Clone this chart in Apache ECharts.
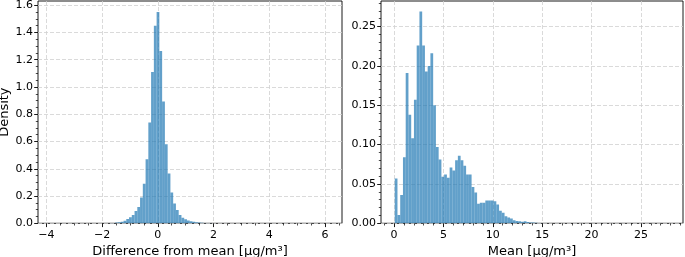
<!DOCTYPE html>
<html><head><meta charset="utf-8">
<script src="https://cdn.jsdelivr.net/npm/echarts@6/dist/echarts.min.js"></script>
<style>html,body{margin:0;padding:0;background:#fff}#c{width:685px;height:257px}</style>
</head><body><div id="c"></div>
<script>
// ---- Left histogram: difference from mean (100 bins) ----
const diffBinStart = -3.805;
const diffBinWidth = 0.099;
const diffDensity = [
  0.0001,0,0,0,0,0,0,0,0,0,
  0,0,0,0,0,0,0,0.0003,0.0005,0.0008,
  0.001,0.002,0.003,0.005,0.008,0.012,0.019,0.031,0.044,0.06,
  0.09,0.12,0.19,0.29,0.47,0.74,1.11,1.45,1.55,1.265,
  0.893,0.58,0.365,0.226,0.146,0.097,0.061,0.041,0.029,0.02,
  0.015,0.011,0.008,0.006,0.004,0.003,0.002,0.0015,0.001,0.0008,
  0.0006,0.0004,0.0003,0.0002,0,0,0,0,0,0,
  0,0,0,0,0,0,0,0,0,0,
  0,0,0,0,0,0,0,0,0,0,
  0,0,0,0,0,0,0,0,0,0.0001
];
// ---- Right histogram: mean (100 bins) ----
const meanBinStart = 0.07;
const meanBinWidth = 0.278;
const meanDensity = [
  0.057,0.0105,0.036,0.084,0.191,0.138,0.108,0.157,0.226,0.269,
  0.226,0.193,0.200,0.216,0.150,0.097,0.081,0.059,0.062,0.058,
  0.071,0.067,0.080,0.086,0.080,0.073,0.062,0.062,0.046,0.039,
  0.025,0.026,0.026,0.029,0.029,0.029,0.028,0.024,0.016,0.0135,
  0.009,0.0075,0.006,0.004,0.003,0.0025,0.002,0.0025,0.0015,0.001,
  0.001,0.0007,0.0005,0.0003,0.0002,0,0,0,0,0,
  0,0,0,0,0,0,0,0,0,0,
  0,0,0,0,0,0,0,0,0,0,
  0,0,0,0,0,0,0,0,0,0,
  0,0,0,0,0,0,0,0,0,0.0001
];
// ---- Tick values and labels ----
const diffTicks = [-4, -2, 0, 2, 4, 6];
const diffTickLabels = ['\u22124', '\u22122', '0', '2', '4', '6'];
const diffDensityTicks = [0, 0.2, 0.4, 0.6, 0.8, 1.0, 1.2, 1.4, 1.6];
const diffDensityTickLabels = ['0.0', '0.2', '0.4', '0.6', '0.8', '1.0', '1.2', '1.4', '1.6'];
const meanTicks = [0, 5, 10, 15, 20, 25];
const meanTickLabels = ['0', '5', '10', '15', '20', '25'];
const meanDensityTicks = [0, 0.05, 0.10, 0.15, 0.20, 0.25];
const meanDensityTickLabels = ['0.00', '0.05', '0.10', '0.15', '0.20', '0.25'];
const xTitles = ['Difference from mean [μg/m³]', 'Mean [μg/m³]'];
const yTitle = 'Density';

const diffRange = [-4.3, 6.61];
const diffDensityRange = [0, 1.631];
const meanRange = [-1.32, 29.26];
const meanDensityRange = [0, 0.2825];

function minors(majors, n, range) {
  const step = (majors[1] - majors[0]) / n;
  const out = [];
  for (let v = majors[0] - 2 * (majors[1] - majors[0]); v <= range[1] + 1e-9; v += step) {
    const r = Math.round(v * 1e6) / 1e6;
    if (r > range[0] && r < range[1] && !majors.some(m => Math.abs(m - r) < 1e-9)) out.push(r);
  }
  return out;
}
function bins(start, width, dens) {
  return dens.map((d, i) => [start + i * width, start + (i + 1) * width, d]);
}
function labeler(ticks, labels) {
  return function (v) {
    const val = Number(v);
    for (let i = 0; i < ticks.length; i++) if (Math.abs(ticks[i] - val) < 1e-6) return labels[i];
    return '';
  };
}

const FONT = 'DejaVu Sans';
const barColor = 'rgba(31,119,180,0.7)';
const gridLine = { show: true, lineStyle: { color: '#d0d0d0', width: 0.8, type: [4, 2] } };
const nameStyle = { fontFamily: FONT, fontSize: 13, color: '#000' };
const tickFont = { fontFamily: FONT, fontSize: 11, color: '#000' };

function majorX(grid, range, ticks, labels, title) {
  return {
    type: 'value', gridIndex: grid, position: 'bottom', min: range[0], max: range[1],
    name: title, nameLocation: 'middle', nameGap: 18, nameTextStyle: nameStyle,
    axisLine: { show: false, onZero: false },
    axisTick: { show: true, length: 3.8, customValues: ticks, lineStyle: { color: '#000', width: 0.9 } },
    axisLabel: Object.assign({ show: true, customValues: ticks, margin: 6, hideOverlap: false,
                 formatter: labeler(ticks, labels) }, tickFont),
    splitLine: gridLine
  };
}
function minorX(grid, range, vals) {
  return {
    type: 'value', gridIndex: grid, position: 'bottom', min: range[0], max: range[1],
    axisLine: { show: false, onZero: false },
    axisTick: { show: true, length: 2.2, customValues: vals, lineStyle: { color: '#000', width: 0.7 } },
    axisLabel: { show: false }, splitLine: { show: false }
  };
}
function majorY(grid, range, ticks, labels, showLabels) {
  return {
    type: 'value', gridIndex: grid, position: 'left', min: range[0], max: range[1],
    axisLine: { show: false, onZero: false },
    axisTick: { show: true, length: 3.8, customValues: ticks, lineStyle: { color: '#000', width: 0.9 } },
    axisLabel: Object.assign({ show: showLabels, customValues: ticks, margin: 5, hideOverlap: false,
                 formatter: labeler(ticks, labels) }, tickFont),
    splitLine: gridLine
  };
}
function minorY(grid, range, vals) {
  return {
    type: 'value', gridIndex: grid, position: 'left', min: range[0], max: range[1],
    axisLine: { show: false, onZero: false },
    axisTick: { show: true, length: 2.2, customValues: vals, lineStyle: { color: '#000', width: 0.7 } },
    axisLabel: { show: false }, splitLine: { show: false }
  };
}
function histSeries(xi, yi, data) {
  return {
    type: 'custom', xAxisIndex: xi, yAxisIndex: yi, clip: true,
    encode: { x: [0, 1], y: 2 },
    data: data,
    renderItem: function (params, api) {
      const p0 = api.coord([api.value(0), api.value(2)]);
      const p1 = api.coord([api.value(1), 0]);
      return { type: 'rect', shape: { x: p0[0], y: p0[1], width: p1[0] - p0[0], height: p1[1] - p0[1] },
               style: { fill: barColor } };
    }
  };
}

const chart = echarts.init(document.getElementById('c'), null, { renderer: 'canvas' });
chart.setOption({
  animation: false,
  backgroundColor: '#fff',
  grid: [
    { left: 38, top: 1, width: 304, height: 222.3, show: true, borderColor: '#000', borderWidth: 0.9,
      backgroundColor: 'transparent', containLabel: false, outerBoundsMode: 'none' },
    { left: 381, top: 1, width: 302, height: 222.3, show: true, borderColor: '#000', borderWidth: 0.9,
      backgroundColor: 'transparent', containLabel: false, outerBoundsMode: 'none' }
  ],
  xAxis: [
    majorX(0, diffRange, diffTicks, diffTickLabels, xTitles[0]),
    minorX(0, diffRange, minors(diffTicks, 4, diffRange)),
    majorX(1, meanRange, meanTicks, meanTickLabels, xTitles[1]),
    minorX(1, meanRange, minors(meanTicks, 5, meanRange))
  ],
  yAxis: [
    majorY(0, diffDensityRange, diffDensityTicks, diffDensityTickLabels, false),
    minorY(0, diffDensityRange, minors(diffDensityTicks, 4, diffDensityRange)),
    majorY(1, meanDensityRange, meanDensityTicks, meanDensityTickLabels, true),
    minorY(1, meanDensityRange, minors(meanDensityTicks, 5, meanDensityRange))
  ],
  series: [
    histSeries(0, 0, bins(diffBinStart, diffBinWidth, diffDensity)),
    histSeries(2, 2, bins(meanBinStart, meanBinWidth, meanDensity))
  ]
});

// Left y tick labels and the y title as text elements placed through the axis scale
const gfx = [];
diffDensityTicks.forEach(function (v, i) {
  const p = chart.convertToPixel({ gridIndex: 0 }, [diffRange[0], v]);
  gfx.push({ type: 'text', x: p[0] - 5, y: p[1], silent: true,
    style: { text: diffDensityTickLabels[i], font: '11px "DejaVu Sans"', fill: '#000', align: 'right', verticalAlign: 'middle' } });
});
const mid = chart.convertToPixel({ gridIndex: 0 }, [diffRange[0], (diffDensityRange[0] + diffDensityRange[1]) / 2]);
gfx.push({ type: 'text', x: 5, y: mid[1], rotation: Math.PI / 2, silent: true,
  style: { text: yTitle, font: '13px "DejaVu Sans"', fill: '#000', align: 'center', verticalAlign: 'middle' } });
chart.setOption({ graphic: gfx });
</script>
</body></html>
